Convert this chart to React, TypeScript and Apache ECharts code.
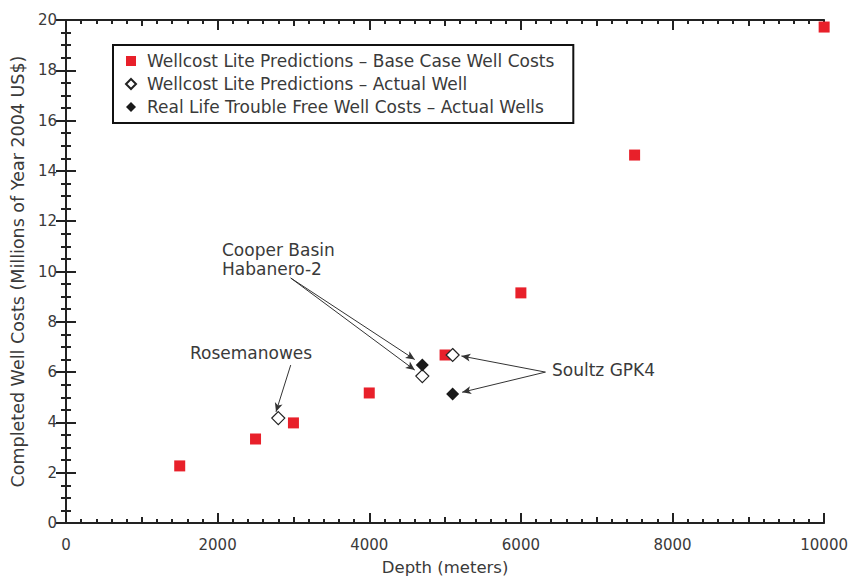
import React, { useEffect, useRef } from "react";
import * as echarts from "echarts";

const baseCaseX = [1500, 2500, 3000, 4000, 5000, 6000, 7500, 10000];
const baseCaseY = [2.27, 3.34, 3.98, 5.17, 6.68, 9.15, 14.63, 19.72];
const predictedX = [2800, 4700, 5100];
const predictedY = [4.17, 5.84, 6.68];
const actualX = [4700, 5100];
const actualY = [6.28, 5.13];

const seriesNames = [
  "Wellcost Lite Predictions – Base Case Well Costs",
  "Wellcost Lite Predictions – Actual Well",
  "Real Life Trouble Free Well Costs – Actual Wells",
];

const xTicks = { min: 0, max: 10000, interval: 2000 };
const yTicks = { min: 0, max: 20, interval: 2 };

// annotation arrows [fromX, fromY, toX, toY] in data units
const arrows = [
  [2964, 6.28, 2770, 4.42],
  [2964, 9.74, 4600, 6.5],
  [2964, 9.74, 4600, 6.08],
  [6324, 6.0, 5215, 6.64],
  [6324, 6.0, 5225, 5.2],
];

const FONT = "DejaVu Sans";
const TXT = "#3a3a3a";

export default function App() {
  const ref = useRef<HTMLDivElement>(null);
  useEffect(() => {
    const chart = echarts.init(ref.current!, null, { renderer: "svg" });
    const zip = (xs: number[], ys: number[]) => xs.map((x, i) => [x, ys[i]]);
    const axisLine = { show: true, lineStyle: { color: "#222", width: 2 } };
    const tickStyle = { color: "#222", width: 2 };
    chart.setOption({
      animation: false,
      backgroundColor: "#fff",
      textStyle: { fontFamily: FONT },
      grid: { left: 66, right: 25, top: 20, bottom: 61 },
      legend: {
        orient: "vertical",
        left: 113,
        top: 45,
        padding: [6, 19, 6, 12],
        borderColor: "#111",
        borderWidth: 2,
        itemWidth: 10,
        itemHeight: 10,
        itemGap: 3,
        textStyle: { fontSize: 17, color: TXT, fontFamily: FONT, lineHeight: 20, padding: [0, 0, 0, 6] },
        data: seriesNames,
      },
      xAxis: [
        {
          type: "value",
          position: "bottom",
          ...xTicks,
          name: "Depth (meters)",
          nameLocation: "middle",
          nameGap: 36,
          nameTextStyle: { fontSize: 16.5, color: TXT, fontFamily: FONT },
          axisLine,
          axisTick: { show: true, inside: true, length: 10, lineStyle: tickStyle },
          minorTick: { show: true, splitNumber: 10, length: 4, lineStyle: tickStyle },
          axisLabel: { fontSize: 15, color: TXT, margin: 14, fontFamily: FONT, formatter: (v: number) => String(v) },
          splitLine: { show: false },
        },
        {
          type: "value",
          position: "bottom",
          min: 0, max: 10000, interval: 1000,
          axisLine: { show: false },
          axisTick: { show: true, inside: true, length: 6, lineStyle: tickStyle },
          axisLabel: { show: false },
          splitLine: { show: false },
        },
        {
          type: "value",
          position: "top",
          ...xTicks,
          axisLine,
          axisTick: { show: true, inside: true, length: 10, lineStyle: tickStyle },
          minorTick: { show: true, splitNumber: 10, length: 4, lineStyle: tickStyle },
          axisLabel: { show: false },
          splitLine: { show: false },
        },
        {
          type: "value",
          position: "top",
          min: 0, max: 10000, interval: 1000,
          axisLine: { show: false },
          axisTick: { show: true, inside: true, length: 6, lineStyle: tickStyle },
          axisLabel: { show: false },
          splitLine: { show: false },
        },
      ],
      yAxis: [
        {
          type: "value",
          position: "left",
          ...yTicks,
          name: "Completed Well Costs (Millions of Year 2004 US$)",
          nameLocation: "middle",
          nameGap: 38,
          nameTextStyle: { fontSize: 17.5, color: TXT, fontFamily: FONT },
          axisLine,
          axisTick: { show: true, inside: true, length: 10, lineStyle: tickStyle },
          minorTick: { show: true, splitNumber: 4, length: 5, lineStyle: tickStyle },
          axisLabel: { fontSize: 15, color: TXT, margin: 9, fontFamily: FONT },
          splitLine: { show: false },
        },
        {
          type: "value",
          position: "right",
          ...yTicks,
          axisLine,
          axisTick: { show: true, inside: true, length: 10, lineStyle: tickStyle },
          minorTick: { show: true, splitNumber: 4, length: 5, lineStyle: tickStyle },
          axisLabel: { show: false },
          splitLine: { show: false },
        },
      ],
      series: [
        {
          name: seriesNames[0],
          type: "scatter",
          symbol: "rect",
          symbolSize: 11,
          itemStyle: { color: "#e8202a", opacity: 1 },
          data: zip(baseCaseX, baseCaseY),
          markLine: {
            silent: true,
            symbol: ["none", "arrow"],
            symbolSize: [6, 9],
            label: { show: false },
            lineStyle: { color: "#333", width: 1, type: "solid" },
            data: arrows.map((a) => [
              { coord: [a[0], a[1]] },
              { coord: [a[2], a[3]] },
            ]),
          },
        },
        {
          name: seriesNames[1],
          type: "scatter",
          symbol: "diamond",
          symbolSize: 13,
          itemStyle: { color: "#fff", borderColor: "#222", borderWidth: 1.2, opacity: 1 },
          data: zip(predictedX, predictedY),
        },
        {
          name: seriesNames[2],
          type: "scatter",
          symbol: "diamond",
          symbolSize: 13,
          itemStyle: { color: "#1a1a1a", opacity: 1 },
          data: zip(actualX, actualY),
        },
      ],
      graphic: [
        { type: "text", left: 222, top: 240, style: { text: "Cooper Basin\nHabanero-2", font: `17px "${FONT}"`, fill: TXT, lineHeight: 19 } },
        { type: "text", left: 190, top: 344, style: { text: "Rosemanowes", font: `17px "${FONT}"`, fill: TXT } },
        { type: "text", left: 552, top: 361, style: { text: "Soultz GPK4", font: `17px "${FONT}"`, fill: TXT } },
      ],
    });
    return () => chart.dispose();
  }, []);
  return <div ref={ref} style={{ position: "fixed", left: 0, top: 0, width: 851, height: 584 }} />;
}
